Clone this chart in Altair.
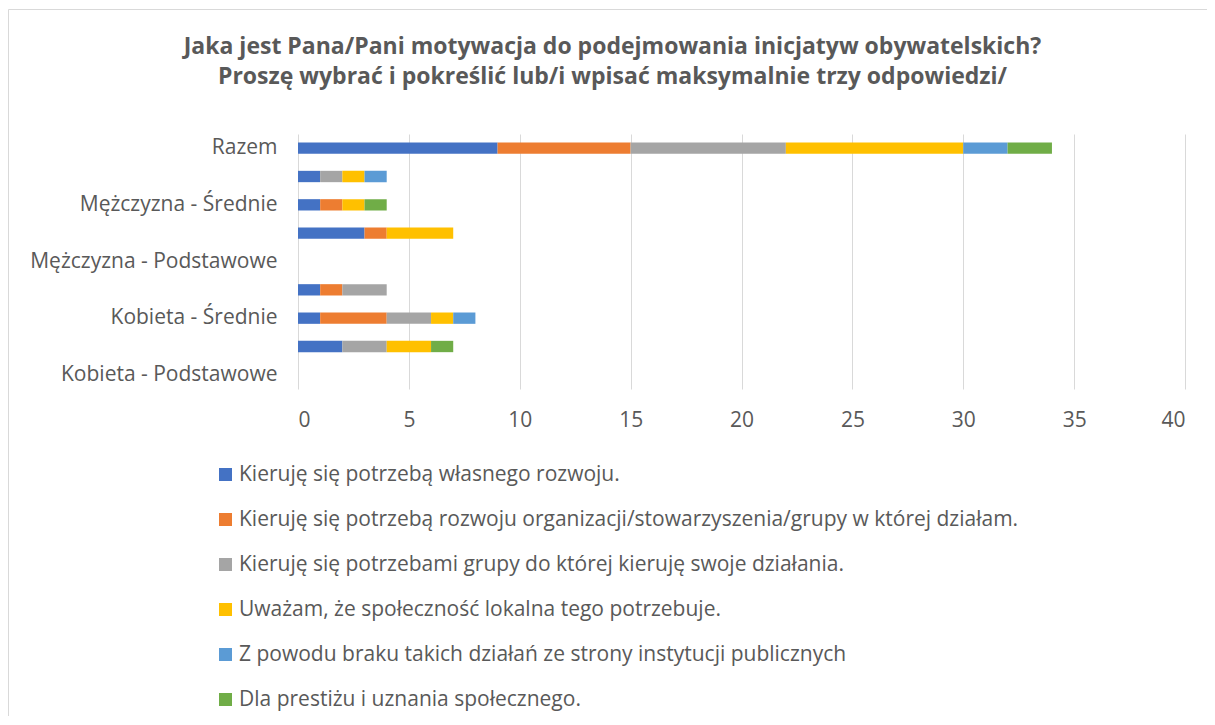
import altair as alt
import pandas as pd

# Categories listed bottom-to-top (as in the source chart)
categories = [
    "Kobieta - Podstawowe",
    "Kobieta - Zasadnicze zawodowe",
    "Kobieta - Średnie",
    "Kobieta - Wyższe",
    "Mężczyzna - Podstawowe",
    "Mężczyzna - Zasadnicze zawodowe",
    "Mężczyzna - Średnie",
    "Mężczyzna - Wyższe",
    "Razem",
]
shown_labels = [
    "Razem",
    "Mężczyzna - Średnie",
    "Mężczyzna - Podstawowe",
    "Kobieta - Średnie",
    "Kobieta - Podstawowe",
]
series = [
    "Kieruję się potrzebą własnego rozwoju.",
    "Kieruję się potrzebą rozwoju organizacji/stowarzyszenia/grupy w której działam.",
    "Kieruję się potrzebami grupy do której kieruję swoje działania.",
    "Uważam, że społeczność lokalna tego potrzebuje.",
    "Z powodu braku takich działań ze strony instytucji publicznych",
    "Dla prestiżu i uznania społecznego.",
]
colors = ["#4472C4", "#ED7D31", "#A5A5A5", "#FFC000", "#5B9BD5", "#70AD47"]

s1 = [0, 2, 1, 1, 0, 3, 1, 1, 9]
s2 = [0, 0, 3, 1, 0, 1, 1, 0, 6]
s3 = [0, 2, 2, 2, 0, 0, 0, 1, 7]
s4 = [0, 2, 1, 0, 0, 3, 1, 1, 8]
s5 = [0, 0, 1, 0, 0, 0, 0, 1, 2]
s6 = [0, 1, 0, 0, 0, 0, 1, 0, 2]
values = [s1, s2, s3, s4, s5, s6]

title_lines = [
    "Jaka jest Pana/Pani motywacja do podejmowania inicjatyw obywatelskich?",
    "Proszę wybrać i pokreślić lub/i wpisać maksymalnie trzy odpowiedzi/",
]

rows = []
for si, (name, vals) in enumerate(zip(series, values)):
    for cat, v in zip(categories, vals):
        rows.append({"kategoria": cat, "seria": name, "wartosc": v, "kolejnosc": si})
df = pd.DataFrame(rows)

FONT = "Open Sans"
TXT = "#595959"

border = alt.Chart(pd.DataFrame({"a": [0]})).mark_rect(
    fill="white", fillOpacity=0, stroke="#D9D9D9", strokeWidth=1
).encode(
    x=alt.value(-289.5), x2=alt.value(1500), y=alt.value(-124.5), y2=alt.value(1500)
)

bars = alt.Chart(df).mark_bar().encode(
    x=alt.X(
        "sum(wartosc):Q",
        stack="zero",
        scale=alt.Scale(domain=[0, 40], nice=False),
        axis=alt.Axis(
            values=[0, 5, 10, 15, 20, 25, 30, 35, 40],
            title=None,
            grid=True,
            gridColor="#D9D9D9",
            gridWidth=1,
            domain=False,
            ticks=False,
            labelFontSize=21,
            labelColor=TXT,
            labelFont=FONT,
            labelPadding=31,
            labelBaseline="middle",
        ),
    ),
    y=alt.Y(
        "kategoria:N",
        sort=list(reversed(categories)),
        scale=alt.Scale(paddingInner=0.6, paddingOuter=0.3),
        axis=alt.Axis(
            values=shown_labels,
            title=None,
            domain=False,
            ticks=False,
            grid=False,
            labelFontSize=21,
            labelColor=TXT,
            labelFont=FONT,
            labelPadding=21,
            labelLimit=400,
        ),
    ),
    color=alt.Color(
        "seria:N",
        scale=alt.Scale(domain=series, range=colors),
        title=None,
        legend=alt.Legend(
            orient="none",
            legendX=-83,
            legendY=330,
            direction="vertical",
            symbolType="square",
            symbolSize=169,
            symbolStrokeWidth=0,
            labelFontSize=21,
            labelColor=TXT,
            labelFont=FONT,
            labelLimit=1200,
            labelOffset=3,
            rowPadding=23,
            padding=0,
        ),
    ),
    order=alt.Order("kolejnosc:Q", sort="ascending"),
)

chart = alt.layer(border, bars).properties(
    width=887,
    height=255,
    padding={"left": 290, "top": 126, "right": 22, "bottom": 327},
    autosize=alt.AutoSizeParams(type="none"),
    title=alt.TitleParams(
        text=title_lines,
        font=FONT,
        fontSize=23,
        fontWeight="bold",
        color=TXT,
        anchor="middle",
        dx=-129,
        offset=-80,
        lineHeight=30,
    ),
).configure(font=FONT).configure_view(stroke=None)

chart.save("out.html", embed_options={"renderer": "svg", "actions": False})
